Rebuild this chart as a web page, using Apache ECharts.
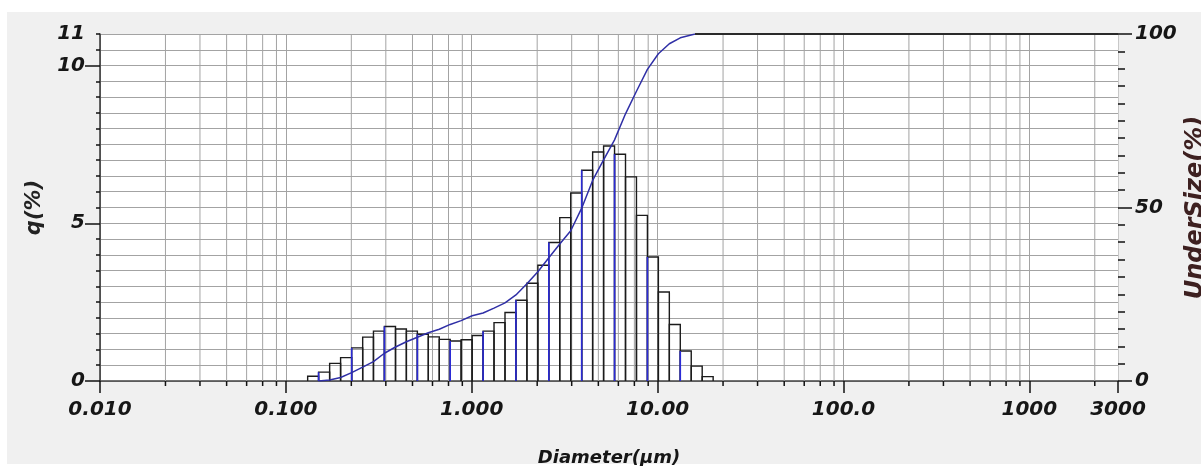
<!DOCTYPE html>
<html><head><meta charset="utf-8">
<script src="https://cdn.jsdelivr.net/npm/echarts@6/dist/echarts.min.js"></script>
<style>html,body{margin:0;padding:0;background:#fff}#c{width:1201px;height:466px}</style>
</head><body><div id="c"></div>
<script>
// ---- data ----
const binEdges = [0.131, 0.150, 0.172, 0.197, 0.226, 0.259, 0.296, 0.339, 0.389, 0.445, 0.510, 0.584, 0.669, 0.766, 0.877, 1.005, 1.151, 1.318, 1.510, 1.729, 1.981, 2.269, 2.599, 2.976, 3.409, 3.905, 4.472, 5.122, 5.867, 6.720, 7.697, 8.816, 10.097, 11.565, 13.246, 15.172, 17.377, 19.904];
const qValues = [0.15, 0.28, 0.56, 0.74, 1.05, 1.39, 1.58, 1.73, 1.65, 1.58, 1.48, 1.40, 1.32, 1.27, 1.31, 1.44, 1.58, 1.85, 2.17, 2.56, 3.10, 3.67, 4.39, 5.18, 5.96, 6.68, 7.26, 7.45, 7.19, 6.47, 5.25, 3.93, 2.82, 1.79, 0.95, 0.47, 0.14];
const curveD = [0.150, 0.172, 0.197, 0.226, 0.259, 0.296, 0.339, 0.389, 0.445, 0.510, 0.584, 0.669, 0.766, 0.877, 1.005, 1.151, 1.318, 1.510, 1.729, 1.981, 2.269, 2.599, 2.976, 3.409, 3.905, 4.472, 5.122, 5.867, 6.720, 7.697, 8.816, 10.097, 11.565, 13.246, 15.9];
const curveP = [0.0, 0.3, 1.0, 2.4, 4.0, 5.6, 8.0, 9.8, 11.3, 12.6, 13.9, 14.9, 16.3, 17.4, 18.8, 19.6, 21.0, 22.5, 24.8, 28.0, 31.5, 35.5, 39.5, 43.3, 49.8, 57.8, 63.7, 69.5, 77.0, 83.5, 89.8, 94.3, 97.2, 98.9, 100];
const flatD = [15.9, 3000];
const flatP = [100, 100];
const xTickValues = [0.01, 0.1, 1, 10, 100, 1000, 3000];
const xTickLabels = ['0.010', '0.100', '1.000', '10.00', '100.0', '1000', '3000'];
const decadeStarts = [0.01, 0.1, 1, 10, 100, 1000];
const minorGridFactors = [2.25, 3.45, 4.8, 6.15, 7.5, 8.9];
const leftLabelValues = [0, 5, 10, 11];
const leftMajorTicks = [0, 5, 10];

// ---- build ----
const minorGrid = [];
decadeStarts.forEach(d => minorGridFactors.forEach(f => { const v = d * f; if (v < 3000) minorGrid.push([v, 0]); }));
const barData = qValues.map((v, i) => [binEdges[i], binEdges[i + 1], v, i]);
const curveData = curveD.map((d, i) => [d, curveP[i]]);
const flatData = flatD.map((d, i) => [d, flatP[i]]);

const FONT = 'DejaVu Sans';
const lbl = { fontFamily: FONT, fontWeight: 'bold', fontStyle: 'italic', fontSize: 20, color: '#161616' };
const gridColor = '#a3a3a3';

const chart = echarts.init(document.getElementById('c'), null, { renderer: 'canvas' });
chart.setOption({
  animation: false,
  backgroundColor: '#ffffff',
  graphic: [{ type: 'rect', z: -100, shape: { x: 7, y: 12, width: 1194, height: 452 }, style: { fill: '#f0f0f0' } }],
  grid: { left: 100, right: 83, top: 34, bottom: 85, containLabel: false, outerBoundsMode: 'none',
          show: true, backgroundColor: '#ffffff', borderWidth: 0 },
  xAxis: [{
    type: 'log', logBase: 10, min: 0.01, max: 3000,
    axisLine: { show: true, onZero: false, lineStyle: { color: '#444', width: 1.5 } },
    axisTick: { show: true, length: 12, lineStyle: { color: '#111', width: 1.5 } },
    splitLine: { show: true, lineStyle: { color: gridColor, width: 1 } },
    axisLabel: Object.assign({}, lbl, {
      margin: 19, showMinLabel: true, showMaxLabel: true,
      formatter: v => {
        for (let k = 0; k < xTickValues.length; k++) {
          if (Math.abs(Math.log10(v) - Math.log10(xTickValues[k])) < 0.01) return xTickLabels[k];
        }
        return '';
      }
    }),
    name: 'Diameter(µm)', nameLocation: 'middle', nameGap: 68,
    nameTextStyle: { fontFamily: FONT, fontWeight: 'bold', fontStyle: 'italic', fontSize: 18, color: '#161616' }
  }],
  yAxis: [{
    type: 'value', position: 'left', min: 0, max: 11, interval: 0.5,
    axisLine: { show: true, lineStyle: { color: '#333', width: 1.5 } },
    axisTick: { show: true, length: 4, lineStyle: { color: '#111', width: 1.5 } },
    splitLine: { show: true, lineStyle: { color: gridColor, width: 1 } },
    axisLabel: Object.assign({}, lbl, {
      margin: 15, showMaxLabel: true,
      formatter: v => { const r = Math.round(v * 10) / 10; return leftLabelValues.indexOf(r) >= 0 ? String(r) : ''; }
    }),
    name: 'q(%)', nameLocation: 'middle', nameGap: 55, nameRotate: 90,
    nameTextStyle: { fontFamily: FONT, fontWeight: 'bold', fontStyle: 'italic', fontSize: 21, color: '#222' }
  }, {
    type: 'value', position: 'right', min: 0, max: 100, interval: 50,
    axisLine: { show: true, lineStyle: { color: '#c8c8c8', width: 1 } },
    axisTick: { show: true, length: 14, lineStyle: { color: '#111', width: 1.5 } },
    minorTick: { show: true, splitNumber: 10, length: 7, lineStyle: { color: '#111', width: 1.5 } },
    splitLine: { show: false },
    axisLabel: Object.assign({}, lbl, { margin: 17 }),
    name: 'UnderSize(%)', nameLocation: 'middle', nameGap: 66, nameRotate: 90, nameMoveOverlap: false,
    nameTextStyle: { fontFamily: FONT, fontWeight: 'bold', fontStyle: 'italic', fontSize: 24, color: '#3d2020' }
  }, {
    type: 'value', position: 'left', min: 0, max: 11,
    axisLine: { show: false },
    axisTick: { show: true, length: 15, customValues: leftMajorTicks, lineStyle: { color: '#111', width: 1.5 } },
    axisLabel: { show: false },
    splitLine: { show: false }
  }],
  series: [{
    type: 'custom', name: 'minorGrid', xAxisIndex: 0, yAxisIndex: 0, z: 1, silent: true,
    data: minorGrid, encode: { x: 0, y: 1 },
    renderItem: (params, api) => {
      const v = api.value(0);
      const top = api.coord([v, 11]);
      const bot = api.coord([v, 0]);
      return { type: 'group', children: [
        { type: 'line', shape: { x1: top[0], y1: top[1], x2: bot[0], y2: bot[1] }, style: { stroke: gridColor, lineWidth: 1 } },
        { type: 'line', shape: { x1: bot[0], y1: bot[1], x2: bot[0], y2: bot[1] + 5 }, style: { stroke: '#111', lineWidth: 1.5 } }
      ] };
    }
  }, {
    type: 'custom', name: 'q', xAxisIndex: 0, yAxisIndex: 0, z: 3,
    data: barData, encode: { x: [0, 1], y: 2 },
    renderItem: (params, api) => {
      const lo = api.value(0), hi = api.value(1), v = api.value(2), i = api.value(3);
      const p0 = api.coord([lo, 0]);
      const p1 = api.coord([hi, v]);
      const children = [{ type: 'polyline', shape: { points: [[p0[0], p0[1]], [p0[0], p1[1]], [p1[0], p1[1]], [p1[0], p0[1]]] },
        style: { stroke: '#1b1b1b', fill: null, lineWidth: 1.4 } }];
      if (i % 3 === 1) {
        children.push({ type: 'line', shape: { x1: p0[0], y1: p0[1], x2: p0[0], y2: p1[1] }, style: { stroke: '#2b2bd6', lineWidth: 1.6 } });
      }
      return { type: 'group', children: children };
    }
  }, {
    type: 'line', name: 'UnderSize', xAxisIndex: 0, yAxisIndex: 1, z: 5,
    data: curveData, showSymbol: false, symbol: 'none', smooth: false,
    lineStyle: { color: '#2f2fa6', width: 1.5 }
  }, {
    type: 'line', name: 'UnderSizeFlat', xAxisIndex: 0, yAxisIndex: 1, z: 5,
    data: flatData, showSymbol: false, symbol: 'none',
    lineStyle: { color: '#2a2a2a', width: 2 }
  }]
});
</script>
</body></html>
